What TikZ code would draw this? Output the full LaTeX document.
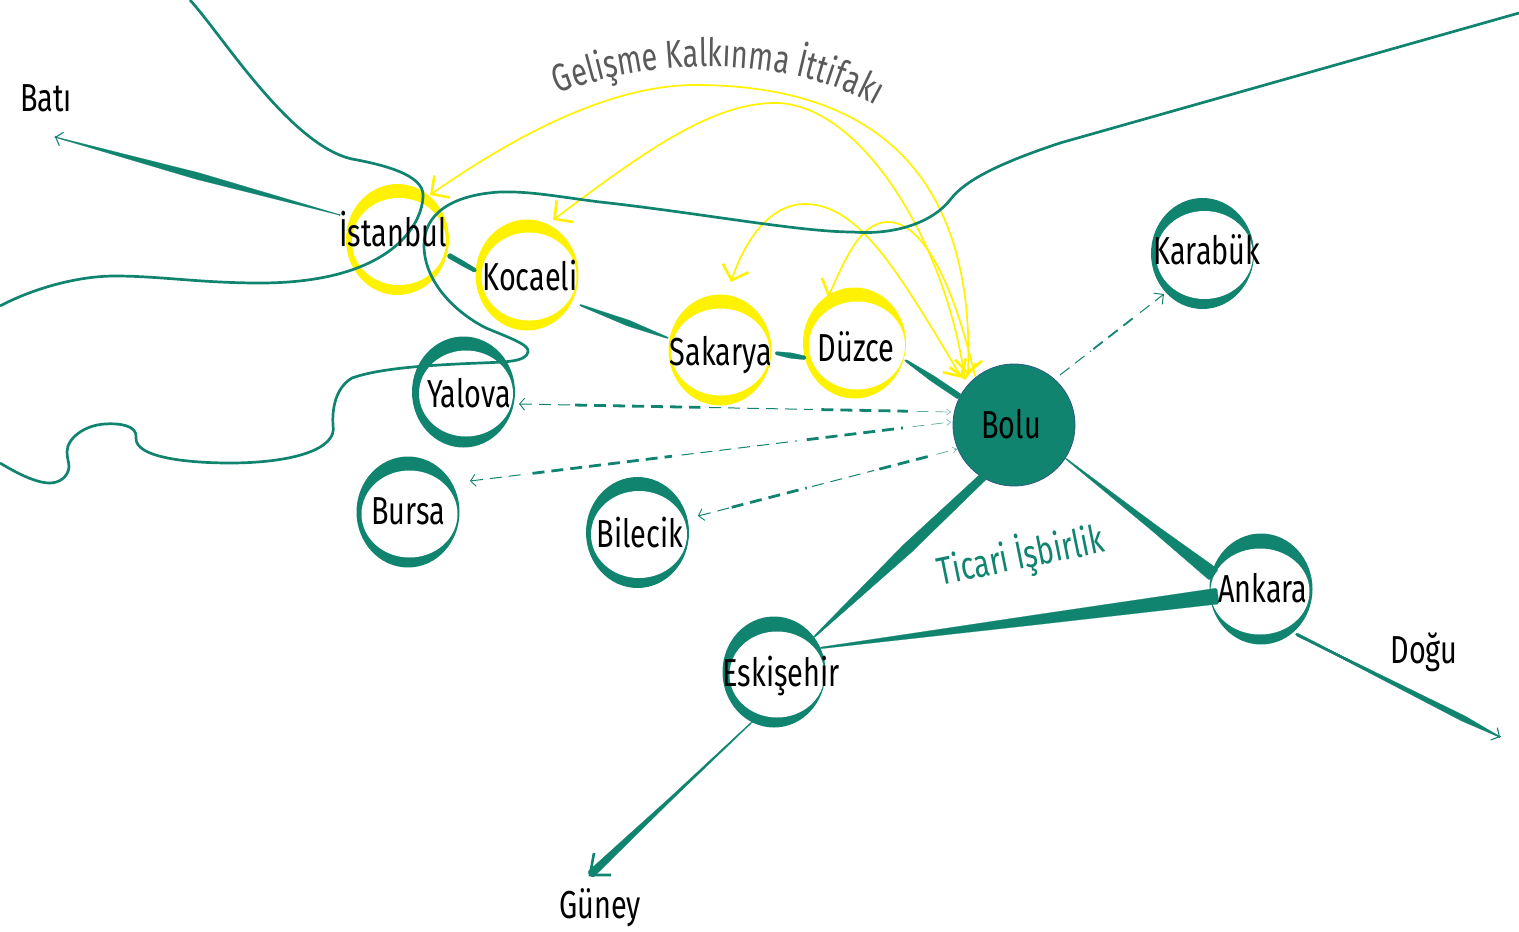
\documentclass[tikz,border=0pt]{standalone}
\usepackage{fontspec}
\setmainfont[FakeStretch=0.74]{Fira Sans}
\usetikzlibrary{calc,arrows.meta,shapes.geometric,decorations.text}
\definecolor{gr}{HTML}{10846F}
\definecolor{yel}{HTML}{FFF200}
\definecolor{gy}{HTML}{5A5A5A}
\newcommand{\ringat}[8]{%
  \node[ringout,fill=#4] (#1) at (#2,#3) {};
  \node[ellipse,inner sep=0pt,fill=white,minimum width={103pt-(#5+#6)*1pt},minimum height={111pt-(#7+#8)*1pt}] (#1in) at ({#2+(#5-#6)/2},{#3+(#7-#8)/2}) {};
}
% tapered connector: A, B, half width at A, at mid, at B, mid position
\newcommand{\taper}[6]{%
  \fill[gr,line join=round,draw=gr,line width=.2pt,rounded corners=1.5pt]
   ($(#1)!#3pt!90:(#2)$) --
   ($($(#1)!#6!(#2)$)!#4pt!90:(#2)$) --
   ($(#2)!#5pt!-90:(#1)$) --
   ($(#2)!#5pt!90:(#1)$) --
   ($($(#1)!#6!(#2)$)!#4pt!-90:(#2)$) --
   ($(#1)!#3pt!-90:(#2)$) -- cycle;
}
\newcommand{\dashrun}[2]{%
  \draw[dashthin,{Straight Barb[length=5pt,width=12pt,line width=.9pt]}-] (#1) -- ($(#1)!.12!(#2)$);
  \draw[dashthick] ($(#1)!.13!(#2)$) -- ($(#1)!.42!(#2)$);
  \draw[dashthin] ($(#1)!.44!(#2)$) -- ($(#1)!.68!(#2)$);
  \draw[dashthick] ($(#1)!.70!(#2)$) -- ($(#1)!.9!(#2)$);
  \draw[dashfaint,-{Straight Barb[length=4pt,width=6pt,line width=.5pt]}] ($(#1)!.92!(#2)$) -- (#2);
}
\tikzset{
  ringout/.style={ellipse,inner sep=0pt,minimum width=103pt,minimum height=111pt},
  lab/.style={text=black,font=\fontsize{39}{39}\selectfont,inner sep=0pt},
  coast/.style={gr,line width=2.7pt},
  ya/.style={yel,line width=1.7pt,line cap=round},
  dashthin/.style={gr,line width=1pt,dash pattern=on 12pt off 7pt},
  dashfaint/.style={gr!70,line width=.7pt,dash pattern=on 12pt off 7pt},
  dashthick/.style={gr,line width=2.8pt,dash pattern=on 12pt off 7pt},
  thinhead/.style={gr,line width=.4pt,-{Straight Barb[length=6pt,width=14pt,line width=1.1pt]}},
}
\begin{document}
\begin{tikzpicture}[x=1pt,y=-1pt]
\useasboundingbox (0,0) rectangle (1519,932);
% ---- endpoints
\coordinate (YistT) at (430,195);
\coordinate (YkocT) at (553,220);
\coordinate (YsakT) at (731,282);
\coordinate (YduzT) at (828,297);
\coordinate (Yb1) at (968,375);
\coordinate (Yb2) at (962,378);
\coordinate (Yb3) at (965,380);
\coordinate (Yb4) at (975,376);
% yellow arrows under the rings
\draw[ya,-{Straight Barb[length=13pt,width=27pt,line width=2.6pt]}] (Yb4) .. controls (955,290) and (925,222) .. (888,222) .. controls (860,222) and (845,260) .. (YduzT);
\draw[ya,{Straight Barb[length=13pt,width=27pt,line width=2.6pt]}-{Straight Barb[length=13pt,width=27pt,line width=2.6pt]}] (YistT) .. controls (530,125) and (620,85) .. (695,85) .. controls (870,85) and (975,170) .. (Yb1);
\draw[ya,{Straight Barb[length=13pt,width=27pt,line width=2.6pt]}-{Straight Barb[length=13pt,width=27pt,line width=2.6pt]}] (YkocT) .. controls (640,155) and (710,103) .. (775,103) .. controls (860,103) and (945,240) .. (Yb3);
\draw[ya,{Straight Barb[length=13pt,width=27pt,line width=2.6pt]}-{Straight Barb[length=13pt,width=27pt,line width=2.6pt]}] (YsakT) .. controls (745,240) and (770,204) .. (805,204) .. controls (860,204) and (900,275) .. (Yb2);
% ---- rings
\ringat{ist}{397.5}{239.5}{yel}{6}{3}{14}{10}
\ringat{koc}{527}{275}{yel}{6}{2}{13}{10}
\ringat{sak}{720}{350}{yel}{3}{2}{14}{10}
\ringat{duz}{854.5}{343}{yel}{6}{1}{14}{9}
\ringat{yal}{463.5}{392}{gr}{7}{2}{14}{11}
\ringat{bur}{408}{512}{gr}{5}{2}{14}{10}
\ringat{bil}{637.5}{532.5}{gr}{5}{2}{14}{10}
\ringat{kar}{1202.5}{253.5}{gr}{5}{1}{13}{10}
\ringat{ank}{1261}{589}{gr}{1}{3}{15}{10}
\ringat{esk}{774}{672}{gr}{7}{1}{15}{10}
\node[circle,minimum size=122pt,inner sep=0pt,fill=gr,draw=gy!70!blue!60!gr,line width=.8pt] (bol) at (1014,425) {};
% ---- coast
\draw[coast] (190,0) .. controls (222,35) and (290,145) .. (352,159) .. controls (385,165) and (423,175) .. (423,195) .. controls (423,225) and (390,283) .. (260,283) .. controls (200,283) and (160,276) .. (115,276) .. controls (75,276) and (30,290) .. (0,306);
\draw[coast] (1519,13) -- (1060,143) .. controls (1000,163) and (965,180) .. (950,200) .. controls (930,225) and (890,235) .. (853,232) .. controls (800,232) and (700,213) .. (600,202) .. controls (560,197) and (530,191) .. (500,192) .. controls (450,195) and (424,215) .. (424,245) .. controls (424,285) and (460,315) .. (486,328) .. controls (510,338) and (530,345) .. (528,352) .. controls (526,362) and (505,362) .. (480,363) .. controls (430,365) and (380,368) .. (352,378) .. controls (335,388) and (332,410) .. (333,425) .. controls (338,450) and (290,463) .. (230,463) .. controls (190,463) and (135,458) .. (136,438) .. controls (138,425) and (118,423) .. (105,424) .. controls (85,425) and (67,438) .. (67,452) .. controls (67,458) and (69,462) .. (69,467) .. controls (68,478) and (58,483) .. (50,483) .. controls (35,483) and (15,472) .. (0,463);
% ---- tapered links
\coordinate (batT) at (55,137);
\coordinate (batE) at (340,215);
\taper{batE}{batT}{.3}{3.5}{.3}{.5}
\draw[thinhead] (68,141) -- (batT);
\coordinate (a1) at (448,255); \coordinate (a2) at (476,271);
\taper{a1}{a2}{2.5}{2.5}{2}{.5}
\coordinate (b1) at (580,305); \coordinate (b2) at (668,338);
\taper{b1}{b2}{.8}{3}{.7}{.55}
\coordinate (c1) at (775,353); \coordinate (c2) at (806,358);
\taper{c1}{c2}{1.5}{2.8}{1.8}{.5}
\coordinate (d1) at (905,360); \coordinate (d2) at (960,397);
\taper{d1}{d2}{1}{3}{3}{.5}
\coordinate (e1) at (984,476); \coordinate (e2) at (814,637);
\taper{e1}{e2}{4}{5.5}{.8}{.45}
\coordinate (f1) at (1065,458); \coordinate (f2) at (1214,575);
\taper{f1}{f2}{.5}{3.5}{7}{.6}
\coordinate (g1) at (1218,596); \coordinate (g2) at (820,648);
\taper{g1}{g2}{8}{5}{.8}{.45}
\coordinate (h1) at (1296,634); \coordinate (hT) at (1500,737);
\taper{h1}{hT}{1.5}{.6}{.5}{.5}
\taper{h1}{hT}{.5}{3}{.4}{.82}
\draw[thinhead] (1485,729) -- (hT);
\coordinate (i1) at (752,722); \coordinate (iT) at (590,875);
\coordinate (iA) at (611,875); \coordinate (iB) at (594,853);
\taper{i1}{iT}{.5}{1.5}{4}{.5}
\draw[gr,line width=2.6pt,line join=miter] (iA) -- (iT) -- (iB);
% ---- dashed links
\coordinate (ky) at (519,404); \coordinate (kyb) at (951,412);
\coordinate (kb) at (470,481); \coordinate (kbb) at (951,422);
\coordinate (kc) at (698,516); \coordinate (kcb) at (957,449);
\dashrun{ky}{kyb}
\dashrun{kb}{kbb}
\dashrun{kc}{kcb}
\coordinate (kk) at (1060,375); \coordinate (kkT) at (1164,294);
\draw[dashthin] (kk) -- ($(kk)!.3!(kkT)$);
\draw[dashthick,line width=1.8pt] ($(kk)!.32!(kkT)$) -- ($(kk)!.75!(kkT)$);
\draw[dashthin,-{Straight Barb[length=7pt,width=14pt,line width=1pt]}] ($(kk)!.77!(kkT)$) -- (kkT);
% ---- labels
\node[lab] (tbat) at (46,98) {Batı};
\node[lab] (tgun) at (600,908) {Güney};
\node[lab] (tdog) at (1424,652) {Doğu};
\node[lab] (tist) at (393,229) {İstanbul};
\node[lab] (tkoc) at (530,276) {Kocaeli};
\node[lab] (tsak) at (721,355) {Sakarya};
\node[lab] (tduz) at (856,347) {Düzce};
\node[lab] (tyal) at (469,393) {Yalova};
\node[lab] (tbur) at (408,511) {Bursa};
\node[lab] (tbil) at (640,533) {Bilecik};
\node[lab] (tbol) at (1011,424) {Bolu};
\node[lab] (tkar) at (1207,250) {Karabük};
\node[lab] (tank) at (1263,588) {Ankara};
\node[lab] (tesk) at (781,676) {Eskişehir};
\node[lab,text=gr,rotate=11.5] (tic) at (1021,556) {Ticari İşbirlik};
\path[decorate,decoration={text along path,text align=center,
   text={|\fontsize{39}{39}\selectfont\color{gy}|Gelişme Kalkınma İttifakı}}]
   (553,96) .. controls (640,60) and (780,50) .. (880,108);
\end{tikzpicture}
\end{document}
